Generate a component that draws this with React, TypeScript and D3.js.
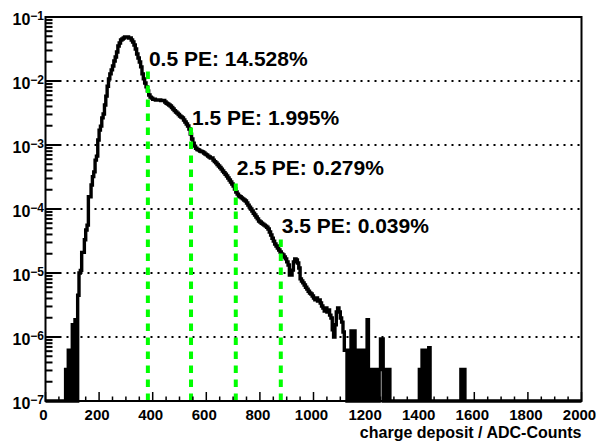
import * as d3 from 'd3'

const W = 600, H = 445
const X0 = 45.5, X1 = 581.5, Y0 = 17, Y1 = 401
const FONT = '"Liberation Sans", Arial, Helvetica, sans-serif'

// histogram: 400 bins of 5 ADC counts, normalised entries (0 = empty bin)
const BIN = 5
const counts = [
  0, 0, 0, 0, 0, 0, 0, 0, 0, 0,
  0, 0, 0, 0, 0, 3.1e-7, 0, 6.2e-7, 0, 6.2e-7,
  1.55e-6, 0, 1.86e-6, 0, 4.5e-6, 1.0e-5, 1.1e-5, 2.1e-5, 2.1e-5, 3.3e-5,
  4.7e-5, 5.6e-5, 1.55e-4, 1.55e-4, 2.37e-4, 3.2e-4, 3.8e-4, 5.8e-4, 6.7e-4, 1.2e-3,
  1.71e-3, 1.97e-3, 2.65e-3, 3.05e-3, 4.22e-3, 5.8e-3, 8.3e-3, 1.08e-2, 1.29e-2, 1.49e-2,
  1.72e-2, 2.05e-2, 2.37e-2, 2.84e-2, 3.52e-2, 3.93e-2, 4.37e-2, 4.53e-2, 4.7e-2, 4.87e-2,
  4.87e-2, 4.87e-2, 4.7e-2, 4.7e-2, 4.37e-2, 4.07e-2, 3.65e-2, 3.16e-2, 2.64e-2, 2.29e-2,
  1.98e-2, 1.66e-2, 1.29e-2, 1.08e-2, 9.3e-3, 8.1e-3, 7.0e-3, 6.04e-3, 5.6e-3, 5.4e-3,
  5.2e-3, 5.2e-3, 5.05e-3, 5.05e-3, 5.05e-3, 5.05e-3, 4.95e-3, 4.95e-3, 4.95e-3, 4.7e-3,
  4.5e-3, 4.37e-3, 4.22e-3, 4.07e-3, 3.85e-3, 3.65e-3, 3.45e-3, 3.27e-3, 3.15e-3, 3.0e-3,
  2.84e-3, 2.74e-3, 2.65e-3, 2.46e-3, 2.29e-3, 2.13e-3, 1.98e-3, 1.78e-3, 1.48e-3, 1.24e-3,
  1.07e-3, 9.6e-4, 8.9e-4, 8.5e-4, 8.35e-4, 8.05e-4, 7.9e-4, 7.8e-4, 7.5e-4, 7.2e-4,
  7.0e-4, 6.7e-4, 6.5e-4, 6.25e-4, 6.25e-4, 5.8e-4, 5.5e-4, 5.25e-4, 4.95e-4, 4.7e-4,
  4.45e-4, 4.2e-4, 3.93e-4, 3.7e-4, 3.5e-4, 3.28e-4, 3.05e-4, 2.84e-4, 2.64e-4, 2.46e-4,
  2.29e-4, 2.05e-4, 1.84e-4, 1.71e-4, 1.6e-4, 1.55e-4, 1.49e-4, 1.44e-4, 1.38e-4, 1.33e-4,
  1.24e-4, 1.15e-4, 1.07e-4, 1.0e-4, 9.3e-5, 8.6e-5, 8.05e-5, 7.5e-5, 7.0e-5, 6.5e-5,
  6.25e-5, 6.0e-5, 5.8e-5, 5.6e-5, 5.4e-5, 5.2e-5, 4.87e-5, 4.37e-5, 3.92e-5, 3.5e-5,
  3.15e-5, 2.84e-5, 2.64e-5, 2.46e-5, 2.29e-5, 2.13e-5, 1.98e-5, 1.91e-5, 1.78e-5, 1.66e-5,
  1.49e-5, 1.33e-5, 9.3e-6, 9.3e-6, 1.11e-5, 1.49e-5, 1.66e-5, 1.6e-5, 1.43e-5, 1.2e-5,
  8.1e-6, 7.5e-6, 7.0e-6, 6.5e-6, 6.0e-6, 5.6e-6, 5.2e-6, 4.87e-6, 4.7e-6, 4.37e-6,
  4.07e-6, 3.8e-6, 4.07e-6, 3.65e-6, 3.8e-6, 3.4e-6, 3.05e-6, 2.84e-6, 2.55e-6, 2.84e-6,
  2.46e-6, 2.64e-6, 2.2e-6, 1.98e-6, 1.3e-6, 1.0e-6, 1.55e-6, 2.46e-6, 2.84e-6, 2.46e-6,
  1.98e-6, 1.71e-6, 1.2e-6, 6.2e-7, 6.2e-7, 0, 6.2e-7, 0, 1.24e-6, 0,
  1.24e-6, 0, 6.2e-7, 0, 6.2e-7, 6.2e-7, 0, 6.2e-7, 0, 6.2e-7,
  1.86e-6, 0, 3.1e-7, 0, 3.1e-7, 3.1e-7, 0, 3.1e-7, 0, 3.1e-7,
  9.3e-7, 9.3e-7, 0, 3.1e-7, 0, 3.1e-7, 3.1e-7, 0, 0, 0,
  0, 0, 0, 0, 0, 0, 0, 0, 0, 0,
  0, 0, 0, 0, 0, 0, 0, 0, 0, 3.1e-7,
  0, 6.2e-7, 0, 6.2e-7, 0, 6.2e-7, 6.8e-7, 0, 0, 0,
  0, 0, 0, 0, 0, 0, 0, 0, 0, 0,
  0, 0, 0, 0, 0, 0, 0, 0, 0, 0,
  3.1e-7, 0, 3.1e-7, 0, 0, 0, 0, 0, 0, 0,
  0, 0, 0, 0, 0, 0, 0, 0, 0, 0,
  0, 0, 0, 0, 0, 0, 0, 0, 0, 0,
  0, 0, 0, 0, 0, 0, 0, 0, 0, 0,
  0, 0, 0, 0, 0, 0, 0, 0, 0, 0,
  0, 0, 0, 0, 0, 0, 0, 0, 0, 0,
  0, 0, 0, 0, 0, 0, 0, 0, 0, 0,
  0, 0, 0, 0, 0, 0, 0, 0, 0, 0,
  0, 0, 0, 0, 0, 0, 0, 0, 0, 0,
]

// photo-electron thresholds
const peLabels = ['0.5 PE: 14.528%', '1.5 PE: 1.995%', '2.5 PE: 0.279%', '3.5 PE: 0.039%']
const peX = [382, 543, 710, 878]
const peTop = [1.6e-2, 2.05e-3, 2.67e-4, 3.52e-5]
const peTextY = [1.71e-2, 2.05e-3, 3.4e-4, 4.2e-5]

const xTicks = [0, 200, 400, 600, 800, 1000, 1200, 1400, 1600, 1800, 2000]
const decades = [-7, -6, -5, -4, -3, -2, -1]

export default function App() {
  const x = d3.scaleLinear([0, 2000], [X0, X1])
  const y = d3.scaleLog([1e-7, 1e-1], [Y1, Y0])

  const pts: [number, number][] = counts.map((v, i) => [i * BIN, v])
  pts.push([counts.length * BIN, counts[counts.length - 1]])
  const line = d3.line<[number, number]>()
    .x((d) => x(d[0]))
    .y((d) => (d[1] > 0 ? Math.min(y(d[1]), Y1) : Y1))
    .curve(d3.curveStepAfter)

  const minorX = d3.range(0, 2001, 50).filter((v) => v % 200 !== 0)
  const minorY: number[] = []
  decades.slice(0, -1).forEach((e) => {
    for (let k = 2; k <= 9; k++) minorY.push(k * Math.pow(10, e))
  })

  return (
    <svg width={W} height={H} style={{ position: 'absolute', left: 0, top: 0, background: '#fff' }}
      fontFamily={FONT} fontWeight="bold">
      {/* grid */}
      {decades.slice(1, -1).map((e) => (
        <line key={e} x1={X0} x2={X1} y1={y(Math.pow(10, e))} y2={y(Math.pow(10, e))}
          stroke="#000" strokeWidth={2} strokeDasharray="2,5" />
      ))}

      {/* histogram */}
      <path d={line(pts) ?? ''} fill="none" stroke="#000" strokeWidth={3.4} strokeLinejoin="miter" />

      {/* PE thresholds */}
      {peX.map((v, i) => (
        <line key={i} x1={x(v)} x2={x(v)} y1={Y1} y2={y(peTop[i])}
          stroke="#00ff00" strokeWidth={4} strokeDasharray="7.5,6.5" />
      ))}
      {peLabels.map((t, i) => (
        <text key={t} x={x(peX[i]) + 1} y={y(peTextY[i])} fontSize={21} fill="#000">{t}</text>
      ))}

      {/* frame */}
      <rect x={X0} y={Y0} width={X1 - X0} height={Y1 - Y0} fill="none" stroke="#000" strokeWidth={2} />

      {/* x axis */}
      {xTicks.map((v) => (
        <g key={v}>
          <line x1={x(v)} x2={x(v)} y1={Y1} y2={Y1 - 9} stroke="#000" strokeWidth={1.5} />
          <text x={x(v) - 2} y={420} fontSize={15} textAnchor="middle">{v}</text>
        </g>
      ))}
      {minorX.map((v) => (
        <line key={v} x1={x(v)} x2={x(v)} y1={Y1} y2={Y1 - 4.5} stroke="#000" strokeWidth={1.5} />
      ))}
      <text x={X1} y={438} fontSize={16} textAnchor="end">charge deposit / ADC-Counts</text>

      {/* y axis */}
      {decades.map((e) => {
        const yy = y(Math.pow(10, e))
        return (
          <g key={e}>
            <line x1={X0} x2={X0 + 15} y1={yy} y2={yy} stroke="#000" strokeWidth={2} />
            <text x={44} y={yy + 8} fontSize={16} textAnchor="end">
              10<tspan fontSize={12} dy={-5.5}>{'\u2212' + Math.abs(e)}</tspan>
            </text>
          </g>
        )
      })}
      {minorY.map((v) => (
        <line key={v} x1={X0} x2={X0 + 7} y1={y(v)} y2={y(v)} stroke="#000" strokeWidth={2} />
      ))}
    </svg>
  )
}
